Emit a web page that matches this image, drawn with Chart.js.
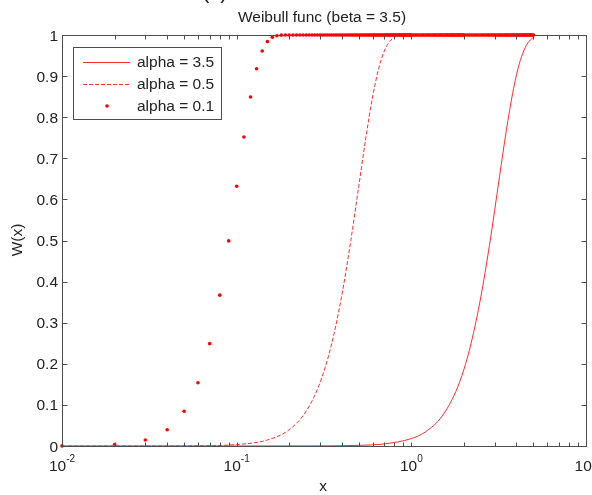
<!DOCTYPE html>
<html>
<head>
<meta charset="utf-8">
<script src="https://cdn.jsdelivr.net/npm/chart.js@4"></script>
<style>
  body { margin: 0; background: #fff; }
</style>
</head>
<body>
<canvas id="weibull" width="592" height="495"></canvas>
<script>
// values
const seriesNames = ['alpha = 3.5', 'alpha = 0.5', 'alpha = 0.1'];

const xSolid = [0.01, 0.1, 0.3, 0.5, 0.7, 1.0, 1.2, 1.5, 1.8, 2.0, 2.2, 2.5, 2.8, 3.0, 3.2, 3.5, 3.8, 4.0, 4.2, 4.5, 4.65, 4.8, 5.0];
const ySolid = [0, 0, 0.0003, 0.0016, 0.0052, 0.0181, 0.0339, 0.0725, 0.1329, 0.1863, 0.2502, 0.3626, 0.488, 0.5736, 0.6565, 0.7682, 0.8576, 0.903, 0.9372, 0.9705, 0.9808, 0.9879, 0.9939];

const xDashed = [0.01, 0.05, 0.1, 0.15, 0.2, 0.25, 0.3, 0.35, 0.4, 0.45, 0.5, 0.55, 0.6, 0.65, 0.7, 0.75, 0.8, 0.85, 0.9, 1.0, 5.0];
const yDashed = [0, 0.0003, 0.0036, 0.0147, 0.0397, 0.0846, 0.154, 0.249, 0.367, 0.499, 0.632, 0.752, 0.849, 0.918, 0.961, 0.984, 0.9944, 0.9983, 0.9996, 1, 1];

const xDots = [
    0.01, 0.02, 0.03, 0.04, 0.05, 0.06, 0.07, 0.08, 0.09, 0.10,
    0.11, 0.12, 0.13, 0.14, 0.15, 0.16, 0.17, 0.18, 0.19, 0.20,
    0.21, 0.22, 0.23, 0.24, 0.25, 0.26, 0.27, 0.28, 0.29, 0.30,
    0.31, 0.32, 0.33, 0.34, 0.35, 0.36, 0.37, 0.38, 0.39, 0.40,
    0.41, 0.42, 0.43, 0.44, 0.45, 0.46, 0.47, 0.48, 0.49, 0.50,
    0.51, 0.52, 0.53, 0.54, 0.55, 0.56, 0.57, 0.58, 0.59, 0.60,
    0.61, 0.62, 0.63, 0.64, 0.65, 0.66, 0.67, 0.68, 0.69, 0.70,
    0.71, 0.72, 0.73, 0.74, 0.75, 0.76, 0.77, 0.78, 0.79, 0.80,
    0.81, 0.82, 0.83, 0.84, 0.85, 0.86, 0.87, 0.88, 0.89, 0.90,
    0.91, 0.92, 0.93, 0.94, 0.95, 0.96, 0.97, 0.98, 0.99, 1.00,
    1.02, 1.04, 1.06, 1.08, 1.10, 1.12, 1.14, 1.16, 1.18, 1.20,
    1.22, 1.24, 1.26, 1.28, 1.30, 1.32, 1.34, 1.36, 1.38, 1.40,
    1.42, 1.44, 1.46, 1.48, 1.50, 1.52, 1.54, 1.56, 1.58, 1.60,
    1.62, 1.64, 1.66, 1.68, 1.70, 1.72, 1.74, 1.76, 1.78, 1.80,
    1.82, 1.84, 1.86, 1.88, 1.90, 1.92, 1.94, 1.96, 1.98, 2.00,
    2.05, 2.10, 2.15, 2.20, 2.25, 2.30, 2.35, 2.40, 2.45, 2.50,
    2.55, 2.60, 2.65, 2.70, 2.75, 2.80, 2.85, 2.90, 2.95, 3.00,
    3.05, 3.10, 3.15, 3.20, 3.25, 3.30, 3.35, 3.40, 3.45, 3.50,
    3.55, 3.60, 3.65, 3.70, 3.75, 3.80, 3.85, 3.90, 3.95, 4.00,
    4.05, 4.10, 4.15, 4.20, 4.25, 4.30, 4.35, 4.40, 4.45, 4.50,
    4.55, 4.60, 4.65, 4.70, 4.75, 4.80, 4.85, 4.90, 4.95, 5.00
];
const yDots = [
    0.0003, 0.0036, 0.0147, 0.0397, 0.0846, 0.154, 0.249, 0.367, 0.499, 0.632,
    0.752, 0.849, 0.918, 0.961, 0.984, 0.9944, 0.9983, 0.9996, 1, 1,
    1, 1, 1, 1, 1, 1, 1, 1, 1, 1,
    1, 1, 1, 1, 1, 1, 1, 1, 1, 1,
    1, 1, 1, 1, 1, 1, 1, 1, 1, 1,
    1, 1, 1, 1, 1, 1, 1, 1, 1, 1,
    1, 1, 1, 1, 1, 1, 1, 1, 1, 1,
    1, 1, 1, 1, 1, 1, 1, 1, 1, 1,
    1, 1, 1, 1, 1, 1, 1, 1, 1, 1,
    1, 1, 1, 1, 1, 1, 1, 1, 1, 1,
    1, 1, 1, 1, 1, 1, 1, 1, 1, 1,
    1, 1, 1, 1, 1, 1, 1, 1, 1, 1,
    1, 1, 1, 1, 1, 1, 1, 1, 1, 1,
    1, 1, 1, 1, 1, 1, 1, 1, 1, 1,
    1, 1, 1, 1, 1, 1, 1, 1, 1, 1,
    1, 1, 1, 1, 1, 1, 1, 1, 1, 1,
    1, 1, 1, 1, 1, 1, 1, 1, 1, 1,
    1, 1, 1, 1, 1, 1, 1, 1, 1, 1,
    1, 1, 1, 1, 1, 1, 1, 1, 1, 1,
    1, 1, 1, 1, 1, 1, 1, 1, 1, 1,
    1, 1, 1, 1, 1, 1, 1, 1, 1, 1
];

// axis ticks
const yTicks = [0, 0.1, 0.2, 0.3, 0.4, 0.5, 0.6, 0.7, 0.8, 0.9, 1];
const yTickLabels = ['0', '0.1', '0.2', '0.3', '0.4', '0.5', '0.6', '0.7', '0.8', '0.9', '1'];
const xDecades = [0.01, 0.1, 1, 10];
const xExponents = ['-2', '-1', '0', '1'];
const xMinor = [0.02, 0.03, 0.04, 0.05, 0.06, 0.07, 0.08, 0.09,
                0.2, 0.3, 0.4, 0.5, 0.6, 0.7, 0.8, 0.9,
                2, 3, 4, 5, 6, 7, 8, 9];

const RED = 'rgb(255,45,45)';
const FONT = '"Liberation Sans", Arial, sans-serif';
const TXT = '#222';

function pts(xs, ys) {
    return xs.map((x, i) => ({ x: x, y: ys[i] }));
}

function seg(ctx, x1, y1, x2, y2) {
    ctx.beginPath();
    ctx.moveTo(x1, y1);
    ctx.lineTo(x2, y2);
    ctx.stroke();
}

// box, inward ticks, labels, legend (matlab style)
const matlabAxes = {
    id: 'matlabAxes',
    afterDraw(chart) {
        const ctx = chart.ctx;
        const a = chart.chartArea;
        const xs = chart.scales.x;
        const ys = chart.scales.y;
        const L = Math.round(a.left) + 0.5, R = Math.round(a.right) + 0.5;
        const T = Math.round(a.top) + 0.5, B = Math.round(a.bottom) + 0.5;

        ctx.save();
        ctx.strokeStyle = '#4d4d4d';
        ctx.lineWidth = 1;
        ctx.strokeRect(L, T, R - L, B - T);

        yTicks.forEach(v => {
            const py = Math.round(ys.getPixelForValue(v)) + 0.5;
            seg(ctx, L, py, L + 5, py);
            seg(ctx, R - 5, py, R, py);
        });
        xDecades.concat(xMinor).forEach(v => {
            const px = Math.round(xs.getPixelForValue(v)) + 0.5;
            seg(ctx, px, B, px, B - 4);
            seg(ctx, px, T, px, T + 4);
        });

        ctx.fillStyle = TXT;
        ctx.font = '15.5px ' + FONT;
        ctx.textAlign = 'right';
        ctx.textBaseline = 'alphabetic';
        yTicks.forEach((v, i) => {
            const py = ys.getPixelForValue(v);
            ctx.fillText(yTickLabels[i], a.left - 4, py + 5.5);
        });

        xDecades.forEach((v, i) => {
            const px = xs.getPixelForValue(v);
            ctx.font = '15.5px ' + FONT;
            const wBase = ctx.measureText('10').width;
            ctx.font = '10px ' + FONT;
            const wExp = ctx.measureText(xExponents[i]).width;
            const x0 = px - (wBase + wExp) / 2;
            ctx.textAlign = 'left';
            ctx.font = '15.5px ' + FONT;
            ctx.fillText('10', x0, 471);
            ctx.font = '10px ' + FONT;
            ctx.fillText(xExponents[i], x0 + wBase, 462);
        });

        // titles
        ctx.font = '15.5px ' + FONT;
        ctx.textAlign = 'center';
        ctx.textBaseline = 'middle';
        ctx.fillText('Weibull func (beta = 3.5)', 322, 18);
        ctx.fillText('x', 323, 487);
        ctx.save();
        ctx.translate(18, 240);
        ctx.rotate(-Math.PI / 2);
        ctx.fillText('W(x)', 0, 0);
        ctx.restore();

        // caption fragment cut by the top edge
        ctx.font = '22px ' + FONT;
        ctx.textAlign = 'left';
        ctx.textBaseline = 'alphabetic';
        ctx.fillText('(x)', 202, -2);

        // legend
        ctx.font = '15.5px ' + FONT;
        ctx.textBaseline = 'middle';
        ctx.fillStyle = '#fff';
        ctx.fillRect(73.5, 47.5, 148, 72);
        ctx.strokeStyle = '#4d4d4d';
        ctx.strokeRect(73.5, 47.5, 148, 72);
        const rows = [62, 84, 106];
        ctx.strokeStyle = RED;
        seg(ctx, 83, rows[0] + 0.5, 130, rows[0] + 0.5);
        ctx.setLineDash([4, 2]);
        seg(ctx, 83, rows[1] + 0.5, 130, rows[1] + 0.5);
        ctx.setLineDash([]);
        ctx.fillStyle = 'rgb(255,0,0)';
        ctx.beginPath();
        ctx.arc(107, rows[2], 1.8, 0, Math.PI * 2);
        ctx.fill();
        ctx.fillStyle = TXT;
        seriesNames.forEach((n, i) => ctx.fillText(n, 137, rows[i] + 1));
        ctx.restore();
    }
};

const chart = new Chart(document.getElementById('weibull').getContext('2d'), {
    type: 'line',
    data: {
        datasets: [
            {
                label: seriesNames[0],
                data: pts(xSolid, ySolid),
                borderColor: RED,
                borderWidth: 1,
                pointRadius: 0,
                cubicInterpolationMode: 'monotone',
                clip: 3
            },
            {
                label: seriesNames[1],
                data: pts(xDashed, yDashed),
                borderColor: RED,
                borderWidth: 1,
                borderDash: [4, 2],
                pointRadius: 0,
                cubicInterpolationMode: 'monotone',
                clip: 3
            },
            {
                label: seriesNames[2],
                data: pts(xDots, yDots),
                showLine: false,
                pointRadius: 1.8,
                pointBorderWidth: 0,
                pointBackgroundColor: 'rgb(255,0,0)',
                clip: 3
            }
        ]
    },
    options: {
        responsive: false,
        animation: false,
        devicePixelRatio: 1,
        layout: { padding: { left: 62, top: 35, right: 6, bottom: 49 } },
        plugins: {
            legend: { display: false },
            title: { display: false },
            tooltip: { enabled: false }
        },
        scales: {
            x: { type: 'logarithmic', min: 0.01, max: 10, display: false },
            y: { type: 'linear', min: 0, max: 1, display: false }
        }
    },
    plugins: [matlabAxes]
});
</script>
</body>
</html>
